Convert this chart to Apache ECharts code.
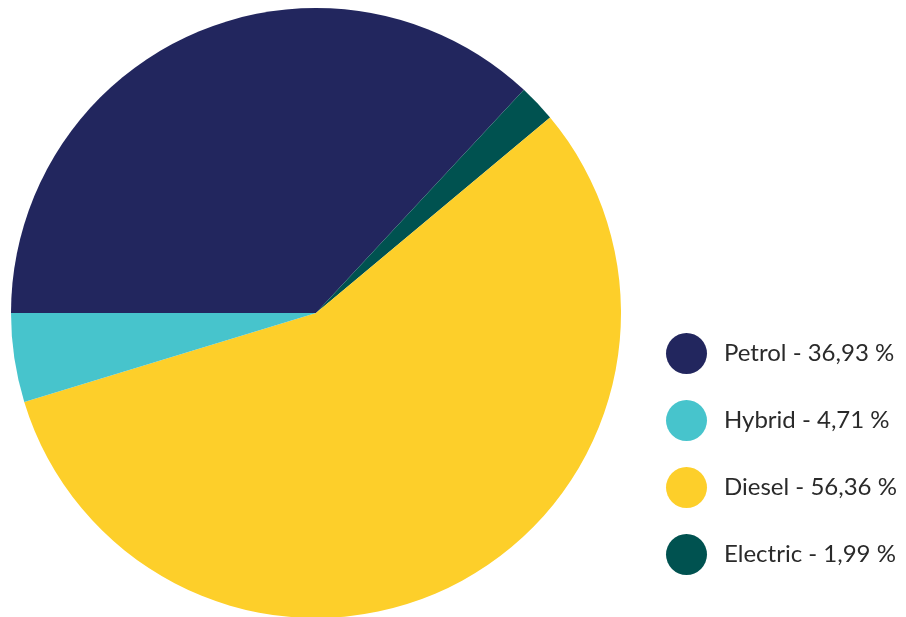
<!DOCTYPE html>
<html>
<head>
<meta charset="utf-8">
<script src="https://cdn.jsdelivr.net/npm/echarts@6/dist/echarts.min.js"></script>
<style>html,body{margin:0;padding:0;background:#fff;}#c{width:906px;height:617px;}</style>
</head>
<body>
<div id="c"></div>
<script>
const categories = ['Petrol', 'Electric', 'Diesel', 'Hybrid'];
const values = [36.93, 1.99, 56.36, 4.71];
const colors = ['#22265E', '#005250', '#FDCF2A', '#47C4CC'];
const legendOrder = ['Petrol', 'Hybrid', 'Diesel', 'Electric'];

const chart = echarts.init(document.getElementById('c'), null, {renderer: 'canvas'});
const data = categories.map((n, i) => ({name: n, value: values[i], itemStyle: {color: colors[i]}}));
chart.setOption({
  animation: false,
  legend: {
    orient: 'vertical',
    left: 661,
    top: 328,
    data: legendOrder,
    icon: 'circle',
    itemWidth: 41,
    itemHeight: 41,
    itemGap: 26,
    textStyle: {
      fontFamily: 'Lato',
      fontSize: 24,
      color: '#2a2a2a',
      padding: [0, 0, 0, 12]
    },
    formatter: function (name) {
      const v = values[categories.indexOf(name)];
      return name + ' - ' + v.toFixed(2).replace('.', ',') + ' %';
    }
  },
  series: [{
    type: 'pie',
    center: [316, 313],
    radius: [0, 305],
    startAngle: 180,
    clockwise: true,
    label: {show: false},
    labelLine: {show: false},
    itemStyle: {borderWidth: 0},
    emphasis: {disabled: true},
    data: data
  }]
});
</script>
</body>
</html>
